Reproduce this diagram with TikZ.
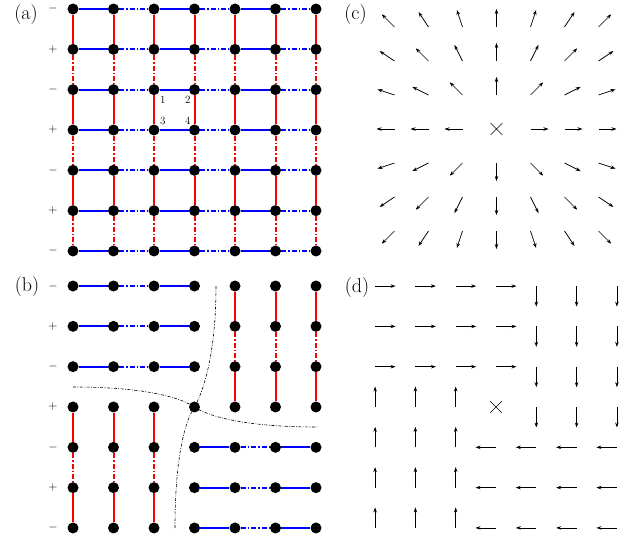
\documentclass[tikz,border=0pt]{standalone}
\usetikzlibrary{arrows.meta,shapes.misc}
\begin{document}
\begin{tikzpicture}[x=1pt,y=-1pt,
 dot/.style={circle,fill=black,inner sep=0pt,minimum size=11pt},
 bsolid/.style={blue,line width=2pt},
 bdash/.style={blue,line width=2pt,dash pattern=on 5pt off 2pt on 1.5pt off 2pt},
 rsolid/.style={red,line width=2pt},
 rdash/.style={red,line width=2pt,dash pattern=on 5pt off 2pt on 1.5pt off 2pt},
 sepline/.style={black,line width=0.6pt,dash pattern=on 3pt off 1.5pt on 0.8pt off 1.5pt},
 vec/.style={black,line width=0.7pt,-{Stealth[length=5pt,width=3.5pt]}},
 sgn/.style={font=\fontsize{12}{14}\selectfont,inner sep=0pt},
 lbl/.style={font=\fontsize{20}{24}\selectfont,inner sep=0pt},
 num/.style={font=\fontsize{11}{13}\selectfont,inner sep=0pt},
 xmark/.style={cross out,draw,line width=0.6pt,minimum size=11pt,inner sep=0pt}]
\useasboundingbox (0,0) rectangle (633,538);

% ---------------- panel (a)
\node[lbl] (la) at (26,15) {(a)};
\foreach \c in {0,...,6}{\foreach \r in {0,...,6}{
  \node[dot] (a\c\r) at ({73+40.5*\c},{9+40.33*\r}) {};}}
\foreach \r in {0,...,6}{
  \foreach \c/\d/\s in {0/1/bsolid,1/2/bdash,2/3/bsolid,3/4/bdash,4/5/bsolid,5/6/bdash}{
    \draw[\s] (a\c\r) -- (a\d\r);}}
\foreach \c in {0,...,6}{
  \foreach \r/\q/\s in {0/1/rsolid,1/2/rdash,2/3/rsolid,3/4/rdash,4/5/rsolid,5/6/rdash}{
    \draw[\s] (a\c\r) -- (a\c\q);}}
\foreach \r/\s in {0/-,1/+,2/-,3/+,4/-,5/+,6/-}{
  \node[sgn] (sa\r) at (53,{9+40.33*\r}) {$\s$};}
\node[num] (n1) at (162.7,100) {1};
\node[num] (n2) at (187.7,100) {2};
\node[num] (n3) at (162.7,120.7) {3};
\node[num] (n4) at (187.7,120.7) {4};

% ---------------- panel (b)
\node[lbl] (lb) at (27,287) {(b)};
\foreach \c in {0,...,3}{\foreach \r in {0,1,2}{
  \node[dot] (b\c\r) at ({73+40.5*\c},{286+40.33*\r}) {};}}
\foreach \c in {4,5,6}{\foreach \r in {0,...,3}{
  \node[dot] (b\c\r) at ({73+40.5*\c},{286+40.33*\r}) {};}}
\foreach \c in {0,1,2}{\foreach \r in {3,...,6}{
  \node[dot] (b\c\r) at ({73+40.5*\c},{286+40.33*\r}) {};}}
\foreach \c in {3,...,6}{\foreach \r in {4,5,6}{
  \node[dot] (b\c\r) at ({73+40.5*\c},{286+40.33*\r}) {};}}
\node[dot] (b33) at ({73+40.5*3},{286+40.33*3}) {};
\foreach \r in {0,1,2}{
  \draw[bsolid] (b0\r) -- (b1\r);
  \draw[bdash] (b1\r) -- (b2\r);
  \draw[bsolid] (b2\r) -- (b3\r);}
\foreach \r in {4,5,6}{
  \draw[bsolid] (b3\r) -- (b4\r);
  \draw[bdash] (b4\r) -- (b5\r);
  \draw[bsolid] (b5\r) -- (b6\r);}
\foreach \c in {4,5,6}{
  \draw[rsolid] (b\c0) -- (b\c1);
  \draw[rdash] (b\c1) -- (b\c2);
  \draw[rsolid] (b\c2) -- (b\c3);}
\foreach \c in {0,1,2}{
  \draw[rsolid] (b\c3) -- (b\c4);
  \draw[rdash] (b\c4) -- (b\c5);
  \draw[rsolid] (b\c5) -- (b\c6);}
\foreach \r/\s in {0/-,1/+,2/-,3/+,4/-,5/+,6/-}{
  \node[sgn] (sb\r) at (53,{286+40.33*\r}) {$\s$};}
\coordinate (ct) at (216,286);
\coordinate (cb) at (175,528);
\coordinate (cl) at (73,387);
\coordinate (cr) at (317,427);
\draw[sepline] (ct) .. controls (216,360) and (201,396) .. (b33.center)
  .. controls (187,418) and (175,450) .. (cb);
\draw[sepline] (cl) .. controls (150,387) and (183,399) .. (b33.center)
  .. controls (206,415) and (240,427) .. (cr);

% ---------------- panel (c)
\node[lbl] (lc) at (355.5,15) {(c)};
\node[xmark] (xc) at (496.5,129) {};
\foreach \i in {-3,...,3}{\foreach \j in {-3,...,3}{
  \pgfmathtruncatemacro\zz{abs(\i)+abs(\j)}
  \ifnum\zz>0
    \pgfmathsetmacro\nn{sqrt(\i*\i+\j*\j)}
    \draw[vec] ({496.5+34*\i},{129+34*\j}) -- ++({18*\i/\nn},{18*\j/\nn});
  \fi}}

% ---------------- panel (d)
\node[lbl] (ld) at (357,288) {(d)};
\node[xmark] (xd) at (496,407) {};
\foreach \c in {0,...,3}{\foreach \r in {0,1,2}{
  \draw[vec] ({496+40.3*(\c-3)},{407+40.3*(\r-3)}) -- ++(20.5,0);}}
\foreach \c in {4,5,6}{\foreach \r in {0,...,3}{
  \draw[vec] ({496+40.3*(\c-3)},{407+40.3*(\r-3)}) -- ++(0,20.5);}}
\foreach \c in {0,1,2}{\foreach \r in {3,...,6}{
  \draw[vec] ({496+40.3*(\c-3)},{407+40.3*(\r-3)}) -- ++(0,-20.5);}}
\foreach \c in {3,...,6}{\foreach \r in {4,5,6}{
  \draw[vec] ({496+40.3*(\c-3)},{407+40.3*(\r-3)}) -- ++(-20.5,0);}}
\end{tikzpicture}
\end{document}
